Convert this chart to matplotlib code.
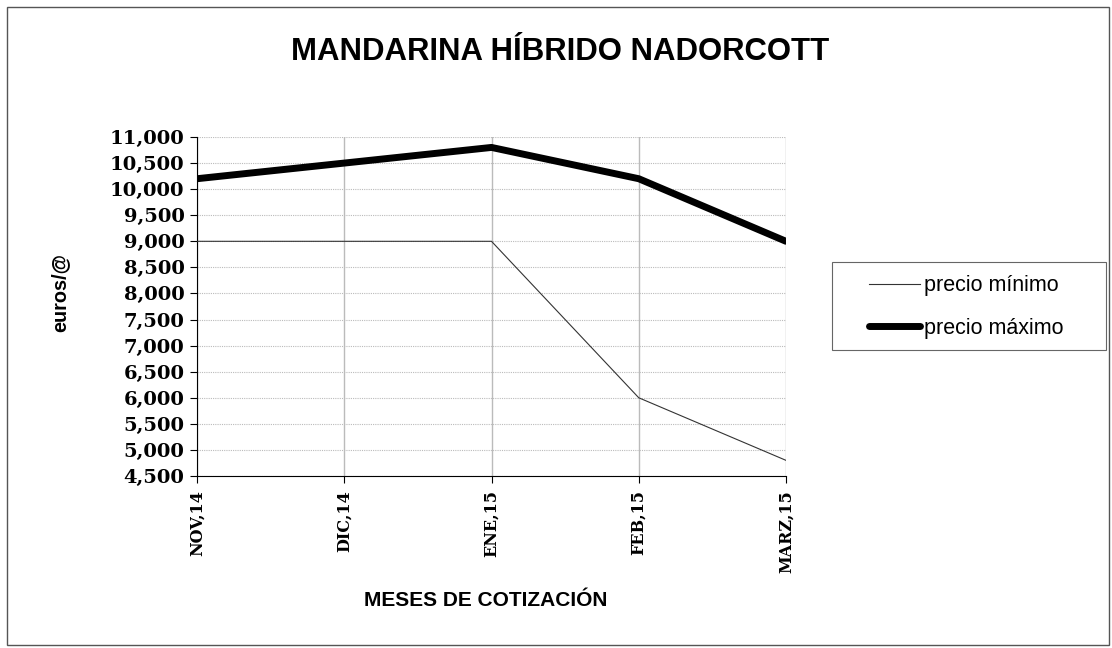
import matplotlib
matplotlib.use("Agg")
import matplotlib.pyplot as plt
from matplotlib.patches import Rectangle
from matplotlib.ticker import FuncFormatter

months = ["NOV,14", "DIC,14", "ENE,15", "FEB,15", "MARZ,15"]
precio_minimo = [9000, 9000, 9000, 6000, 4800]
precio_maximo = [10200, 10500, 10800, 10200, 9000]
y_ticks = list(range(4500, 11001, 500))

W, H = 1112, 648
fig = plt.figure(figsize=(W / 100, H / 100), dpi=100)
fig.patch.set_facecolor("white")

# outer border
fig.patches.append(Rectangle((7 / W, 3 / H), 1102 / W, 638 / H, transform=fig.transFigure,
                             fill=False, edgecolor="#555555", linewidth=1.0))

ax = fig.add_axes([197 / W, 1 - 476 / H, (786 - 197) / W, (476 - 137) / H])
x = list(range(len(months)))

ax.plot(x, precio_minimo, color="#333333", linewidth=0.8, label="precio mínimo", zorder=3)
ax.plot(x, precio_maximo, color="black", linewidth=5, label="precio máximo", zorder=4,
        solid_capstyle="round", solid_joinstyle="round")

ax.set_xlim(0, len(months) - 1)
ax.set_ylim(4500, 11000)
ax.set_yticks(y_ticks)
ax.yaxis.set_major_formatter(FuncFormatter(lambda v, p: f"{int(v):,}"))
ax.set_xticks(x)
ax.set_xticklabels(months, rotation=90, fontfamily="DejaVu Serif", fontweight="bold", fontsize=11.5)
for lbl in ax.get_yticklabels():
    lbl.set_fontfamily("DejaVu Serif")
    lbl.set_fontweight("bold")
    lbl.set_fontsize(14)

ax.grid(axis="y", color="#bbbbbb", linestyle=(0, (1, 1)), linewidth=0.8, zorder=1)
ax.grid(axis="x", color="#bbbbbb", linestyle="-", linewidth=1.0, zorder=1)

for s in ["top", "right"]:
    ax.spines[s].set_visible(False)
ax.spines["left"].set_color("black")
ax.spines["bottom"].set_color("black")
ax.tick_params(axis="both", direction="out", length=5, color="black")
ax.tick_params(axis="x", pad=5)
ax.tick_params(axis="y", pad=4)

fig.text(60 / W, 1 - 292 / H, "euros/@", rotation=90, ha="center", va="center",
         fontfamily="Liberation Sans", fontweight="bold", fontsize=14.3)
fig.text(486 / W, 1 - 601 / H, "MESES DE COTIZACIÓN", ha="center", va="center",
         fontfamily="Liberation Sans", fontweight="bold", fontsize=15)
fig.text(560 / W, 1 - 52 / H, "MANDARINA HÍBRIDO NADORCOTT", ha="center", va="center",
         fontfamily="Liberation Sans", fontweight="bold", fontsize=22.4)

# legend box
fig.patches.append(Rectangle((832 / W, 1 - 350 / H), (1106 - 832) / W, 88 / H,
                             transform=fig.transFigure, fill=False, edgecolor="#666666",
                             linewidth=0.8))
leg = fig.legend(loc="center", bbox_to_anchor=(966 / W, 1 - 307 / H),
                 prop={"family": "Liberation Sans", "size": 15.5},
                 frameon=False, handlelength=2.4, handletextpad=0.15, borderpad=0,
                 labelspacing=1.0, borderaxespad=0)

fig.savefig("out.png", dpi=100, facecolor="white")
